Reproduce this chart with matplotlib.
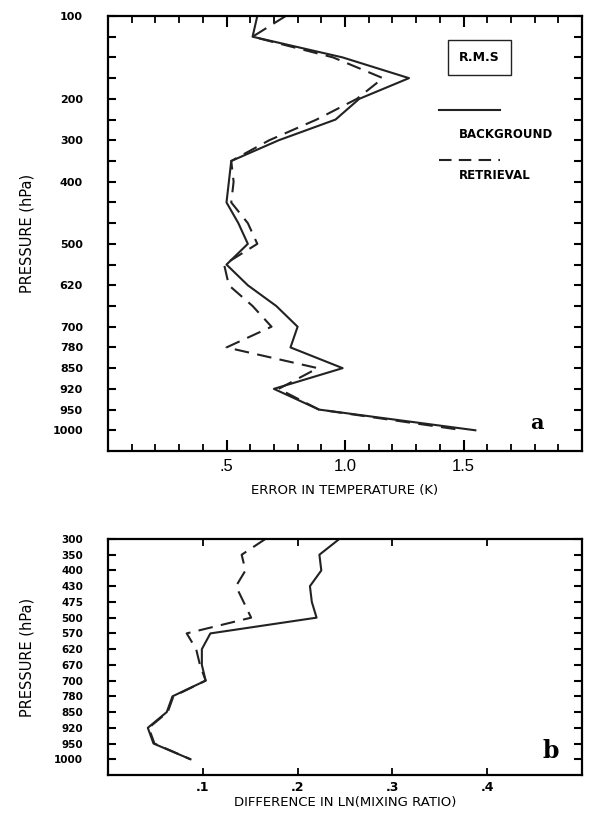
import numpy as np
import matplotlib
matplotlib.use("Agg")
import matplotlib.pyplot as plt

# pressure levels (evenly spaced on the plot), '' = unlabeled tick
top_levels = ['100', '', '', '', '200', '', '300', '', '400', '', '', '500', '',
              '620', '', '700', '780', '850', '920', '950', '1000']
# rms temperature error (K) at each level
temp_background = [0.63, 0.61, 0.99, 1.27, 1.06, 0.96, 0.72, 0.52, 0.51, 0.50, 0.55,
                   0.59, 0.50, 0.59, 0.71, 0.80, 0.77, 0.99, 0.70, 0.89, 1.55]
temp_retrieval = [0.75, 0.61, 0.95, 1.16, 1.05, 0.88, 0.68, 0.52, 0.53, 0.52, 0.59,
                  0.63, 0.49, 0.51, 0.61, 0.69, 0.50, 0.885, 0.72, 0.89, 1.50]

bot_levels = ['300', '350', '400', '430', '475', '500', '570', '620', '670', '700',
              '780', '850', '920', '950', '1000']
q_background = [0.244, 0.223, 0.225, 0.213, 0.215, 0.220, 0.108, 0.099, 0.099, 0.103,
                0.068, 0.062, 0.042, 0.048, 0.087]
q_retrieval = [0.166, 0.141, 0.145, 0.135, 0.143, 0.151, 0.083, 0.093, 0.097, 0.103,
               0.069, 0.063, 0.043, 0.049, 0.087]

fig = plt.figure(figsize=(5.91, 8.14), dpi=100)
lw = 1.5
dash = (0, (7, 4))

# ---- panel a ----
ax1 = fig.add_axes([108/591, 1-451/814, 474/591, 435/814])
y1 = np.arange(len(top_levels))
ax1.plot(temp_background, y1, color='#222222', lw=lw)
ax1.plot(temp_retrieval, y1, color='#222222', lw=lw, linestyle=dash)
ax1.set_xlim(0, 2.0)
ax1.set_ylim(len(top_levels), 0)
ax1.set_yticks(y1)
ax1.set_yticklabels(top_levels, fontsize=8, fontweight='bold')
ax1.set_xticks([0.5, 1.0, 1.5])
ax1.set_xticklabels(['.5', '1.0', '1.5'], fontsize=12, family='Liberation Sans')
ax1.set_xticks(np.arange(0.1, 2.0, 0.1), minor=True)
ax1.tick_params(axis='y', direction='in', length=6, width=1.5, left=True, right=True, pad=18)
ax1.tick_params(axis='x', which='major', direction='in', length=8, width=1.5, top=True, pad=6)
ax1.tick_params(axis='x', which='minor', direction='in', length=5, width=1.3, top=True)
ax1.set_xlabel('ERROR IN TEMPERATURE (K)', fontsize=9.5, labelpad=7)
ax1.set_ylabel('PRESSURE (hPa)', fontsize=10.5)
ax1.yaxis.set_label_coords(-0.155, 0.5)
for s in ax1.spines.values():
    s.set_linewidth(1.6)

ax1.text(0.783, 0.905, 'R.M.S', transform=ax1.transAxes, ha='center', va='center',
         fontsize=9, fontweight='bold',
         bbox=dict(boxstyle='square,pad=0.9', fc='white', ec='#222222', lw=1))
ax1.plot([0.699, 0.826], [0.784, 0.784], transform=ax1.transAxes, color='#222222', lw=lw)
ax1.text(0.74, 0.7265, 'BACKGROUND', transform=ax1.transAxes, ha='left', va='center',
         fontsize=8.5, fontweight='bold')
ax1.plot([0.699, 0.826], [0.669, 0.669], transform=ax1.transAxes, color='#222222', lw=lw,
         linestyle=(0, (6, 3.5)))
ax1.text(0.74, 0.6325, 'RETRIEVAL', transform=ax1.transAxes, ha='left', va='center',
         fontsize=8.5, fontweight='bold')
ax1.text(0.905, 0.064, 'a', transform=ax1.transAxes, ha='center', va='center',
         fontsize=15, fontweight='bold', family='DejaVu Serif')

# ---- panel b ----
ax2 = fig.add_axes([108/591, 1-775/814, 474/591, 236/814])
y2 = np.arange(len(bot_levels))
ax2.plot(q_background, y2, color='#222222', lw=lw)
ax2.plot(q_retrieval, y2, color='#222222', lw=lw, linestyle=dash)
ax2.set_xlim(0, 0.5)
ax2.set_ylim(len(bot_levels), 0)
ax2.set_yticks(y2)
ax2.set_yticklabels(bot_levels, fontsize=7.5, fontweight='bold')
ax2.set_xticks([0.1, 0.2, 0.3, 0.4])
ax2.set_xticklabels(['.1', '.2', '.3', '.4'], fontsize=9, fontweight='bold')
ax2.tick_params(axis='y', direction='in', length=6, width=1.5, left=True, right=True, pad=18)
ax2.tick_params(axis='x', direction='in', length=5, width=1.3, top=True, pad=4)
ax2.set_xlabel('DIFFERENCE IN LN(MIXING RATIO)', fontsize=9.5, labelpad=2)
ax2.set_ylabel('PRESSURE (hPa)', fontsize=10.5)
ax2.yaxis.set_label_coords(-0.155, 0.5)
for s in ax2.spines.values():
    s.set_linewidth(1.6)
ax2.text(0.935, 0.1, 'b', transform=ax2.transAxes, ha='center', va='center',
         fontsize=17, fontweight='bold', family='DejaVu Serif')

fig.savefig('out.png', dpi=100)
